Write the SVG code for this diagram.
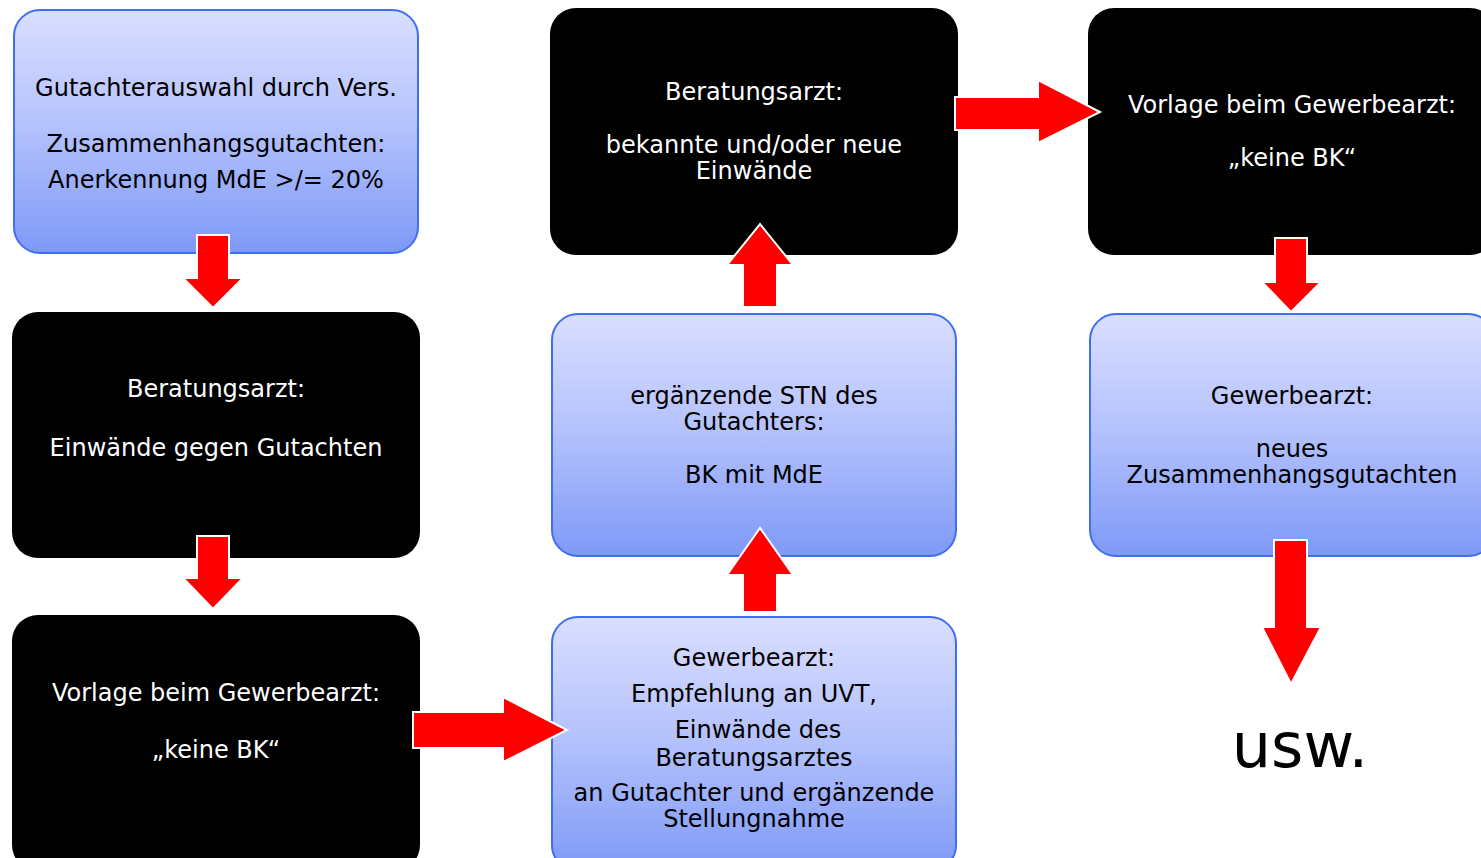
<svg xmlns="http://www.w3.org/2000/svg" width="1481" height="858" viewBox="0 0 1481 858">
<style>
.blue{fill:url(#bg);stroke:#3f6ff0;stroke-width:2}
.black{fill:#000}
text{font-family:"DejaVu Sans",Verdana,sans-serif;font-size:24px;text-anchor:middle}
.w{fill:#fff}
.k{fill:#000}
.arrow{fill:#ff0000;stroke:#fff;stroke-width:2;stroke-linejoin:miter}
</style>
<defs>
<linearGradient id="bg" x1="0" y1="0" x2="0" y2="1">
<stop offset="0" stop-color="#dadfff"/>
<stop offset="0.5" stop-color="#b2c0fc"/>
<stop offset="1" stop-color="#7e99f7"/>
</linearGradient>
</defs>
<rect width="1481" height="858" fill="#fff"/>
<g id="n1">
<rect class="blue" x="14" y="10" width="404" height="243" rx="26"/>
<text class="k" x="216" y="96">Gutachterauswahl durch Vers.</text>
<text class="k" x="216" y="152">Zusammenhangsgutachten:</text>
<text class="k" x="216" y="188">Anerkennung MdE &gt;/= 20%</text>
</g>
<g id="n2">
<rect class="black" x="12" y="312" width="408" height="246" rx="26"/>
<text class="w" x="216" y="397">Beratungsarzt:</text>
<text class="w" x="216" y="456">Einwände gegen Gutachten</text>
</g>
<g id="n3">
<rect class="black" x="12" y="615" width="408" height="256" rx="26"/>
<text class="w" x="216" y="701">Vorlage beim Gewerbearzt:</text>
<text class="w" x="216" y="758">„keine BK“</text>
</g>
<g id="n4">
<rect class="blue" x="552" y="617" width="404" height="254" rx="26"/>
<text class="k" x="754" y="666">Gewerbearzt:</text>
<text class="k" x="754" y="702">Empfehlung an UVT,</text>
<text class="k" x="758" y="738">Einwände des</text>
<text class="k" x="754" y="766">Beratungsarztes</text>
<text class="k" x="754" y="801">an Gutachter und ergänzende</text>
<text class="k" x="754" y="827">Stellungnahme</text>
</g>
<g id="n5">
<rect class="blue" x="552" y="314" width="404" height="242" rx="26"/>
<text class="k" x="754" y="404">ergänzende STN des</text>
<text class="k" x="754" y="430">Gutachters:</text>
<text class="k" x="754" y="483">BK mit MdE</text>
</g>
<g id="n6">
<rect class="black" x="550" y="8" width="408" height="247" rx="26"/>
<text class="w" x="754" y="100">Beratungsarzt:</text>
<text class="w" x="754" y="153">bekannte und/oder neue</text>
<text class="w" x="754" y="179">Einwände</text>
</g>
<g id="n7">
<rect class="black" x="1088" y="8" width="408" height="247" rx="26"/>
<text class="w" x="1292" y="113">Vorlage beim Gewerbearzt:</text>
<text class="w" x="1292" y="166">„keine BK“</text>
</g>
<g id="n8">
<rect class="blue" x="1090" y="314" width="404" height="242" rx="26"/>
<text class="k" x="1292" y="404">Gewerbearzt:</text>
<text class="k" x="1292" y="457">neues</text>
<text class="k" x="1292" y="483">Zusammenhangsgutachten</text>
</g>
<g id="n9">
<text class="k" x="1300" y="767" style="font-size:62px">usw.</text>
</g>
<g id="connectors">
<polygon class="arrow" points="197,235 229,235 229,278 243,278 213,308 183,278 197,278"/>
<polygon class="arrow" points="197,536 229,536 229,578 243,578 213,609 183,578 197,578"/>
<polygon class="arrow" points="413,712 503,712 503,697 567,730 503,762 503,748 413,748"/>
<polygon class="arrow" points="743,612 777,612 777,575 793,575 760,528 727,575 743,575"/>
<polygon class="arrow" points="743,307 777,307 777,265 793,265 760,224 727,265 743,265"/>
<polygon class="arrow" points="955,97 1038,97 1038,80 1100,112 1038,143 1038,130 955,130"/>
<polygon class="arrow" points="1275,238 1307,238 1307,282 1321,282 1291,312 1262,282 1275,282"/>
<polygon class="arrow" points="1274,540 1307,540 1307,627 1321,627 1291,684 1262,627 1274,627"/>
</g>
</svg>
